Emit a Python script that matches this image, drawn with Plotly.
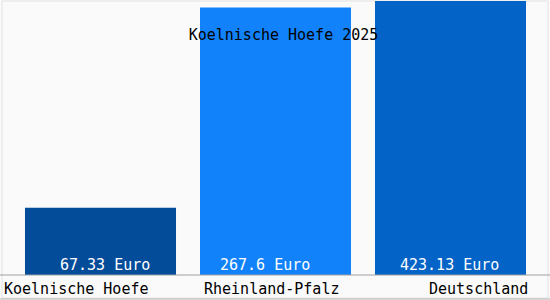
import plotly.graph_objects as go

categories = ["Koelnische Hoefe", "Rheinland-Pfalz", "Deutschland"]
values = [67.33, 267.6, 423.13]
value_labels = ["67.33 Euro", "267.6 Euro", "423.13 Euro"]
bar_colors = ["#034c99", "#1282fa", "#0463c6"]
title_text = "Koelnische Hoefe 2025"

FONT = "DejaVu Sans Mono"

fig = go.Figure()
fig.add_trace(go.Bar(
    x=categories, y=values,
    marker=dict(color=bar_colors, line=dict(width=0)),
    hoverinfo="skip",
))

# value labels inside bars, near base
label_shifts = [-43, -58, -53]
for cat, txt, xs in zip(categories, value_labels, label_shifts):
    fig.add_annotation(x=cat, y=0, xref="x", yref="y", text=txt,
                       showarrow=False, xanchor="left", yanchor="bottom",
                       xshift=xs, yshift=-1,
                       font=dict(family=FONT, size=15, color="white"))

# category labels below axis
cat_anchor = ["left", "center", "right"]
cat_shift = [-99, -4, 79]
for cat, anc, xs in zip(categories, cat_anchor, cat_shift):
    fig.add_annotation(x=cat, y=0, xref="x", yref="paper", text=cat,
                       showarrow=False, xanchor=anc, yanchor="top",
                       xshift=xs, yshift=-3,
                       font=dict(family=FONT, size=15, color="black"))

fig.update_layout(
    width=550, height=300,
    margin=dict(l=13, r=12, t=1, b=25, pad=0, autoexpand=False),
    paper_bgcolor="#fafafa", plot_bgcolor="#fafafa",
    bargap=0.137,
    showlegend=False,
    title=dict(text=title_text, x=283.5/550, xref="container", xanchor="center",
               y=1-29/300, yref="container", yanchor="top",
               font=dict(family=FONT, size=15, color="black")),
    xaxis=dict(range=[-0.5, 2.5], autorange=False, showticklabels=False,
               showgrid=False, zeroline=False, showline=False, ticks="",
               automargin=False),
    yaxis=dict(range=[0, 274], showticklabels=False, showgrid=False,
               zeroline=False, showline=False, ticks="", automargin=False),
    shapes=[
        dict(type="rect", xref="paper", yref="paper",
             x0=-11/525, x1=535/525, y0=-23/274, y1=1.0,
             line=dict(color="#e2e2e2", width=1), layer="below"),
        dict(type="line", xref="paper", yref="paper",
             x0=-13/525, x1=537/525, y0=0, y1=0,
             line=dict(color="#a0a0a0", width=1), layer="above"),
        dict(type="line", xref="paper", yref="paper",
             x0=-13/525, x1=537/525, y0=-24/274, y1=-24/274,
             line=dict(color="#b0b0b0", width=1), layer="above"),
    ],
)

fig.write_html("out.html")
